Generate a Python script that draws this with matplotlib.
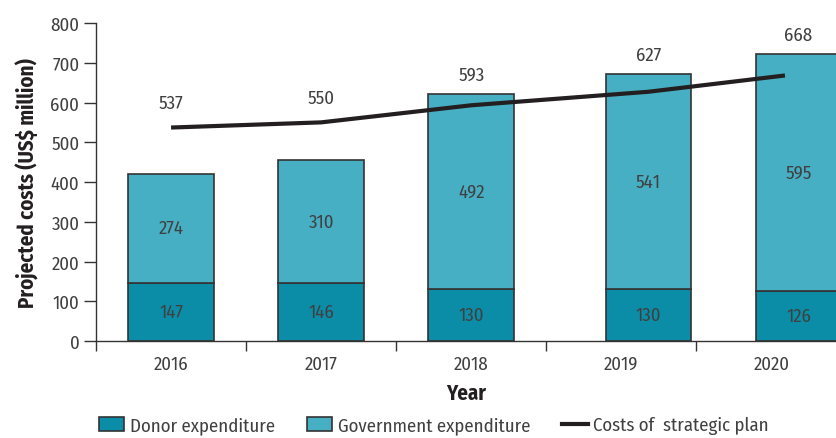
import numpy as np
import matplotlib
matplotlib.use("Agg")
import matplotlib.pyplot as plt
from matplotlib.patches import Patch
from matplotlib.lines import Line2D
from matplotlib import font_manager

# pick a condensed humanist face if one is installed
installed = set(f.name for f in font_manager.fontManager.ttflist)
wanted = ['Fira Sans Condensed', 'PT Sans Narrow', 'Asap Condensed',
          'Archivo Narrow', 'DejaVu Sans']
face = [n for n in wanted if n in installed][0]
plt.rcParams['font.family'] = [face, 'DejaVu Sans']

years = ['2016', '2017', '2018', '2019', '2020']
donor = [147, 146, 130, 130, 126]
government = [274, 310, 492, 541, 595]
plan_costs = [537, 550, 593, 627, 668]

# bars of the last two years sit a little right of their labels in the original
bar_shift = [0, 0, 0, 0.18, 0.18]

c_donor = '#0b8ca7'
c_gov = '#47afc4'
c_edge = '#333333'
c_text = '#404040'

fig = plt.figure(figsize=(8.36, 4.39), dpi=100)
ax = fig.add_axes([96/836, 97/439, 740/836, 318/439])

x = np.arange(len(years))
xb = x + np.array(bar_shift)
w = 0.57

ax.bar(xb, donor, w, color=c_donor, edgecolor=c_edge, linewidth=1.2, zorder=2)
ax.bar(xb, government, w, bottom=donor, color=c_gov, edgecolor=c_edge,
       linewidth=1.2, zorder=2)

xl = xb.copy()
xl[-1] = 4.09
ax.plot(xl, plan_costs, color='#231f20', linewidth=3, solid_capstyle='butt', zorder=3)

fs = 13.5
totals = np.array(donor) + np.array(government)
for i in range(len(years)):
    ax.text(xb[i], donor[i] / 2, str(donor[i]), ha='center', va='center',
            fontsize=fs, color=c_text, zorder=4)
    ax.text(xb[i], donor[i] + government[i] / 2, str(government[i]), ha='center',
            va='center', fontsize=fs, color=c_text, zorder=4)
    if plan_costs[i] > totals[i]:
        top, off = plan_costs[i], 18
    else:
        top, off = totals[i], 14
    ax.annotate(str(plan_costs[i]), (xb[i], top), xytext=(0, off),
                textcoords='offset points', ha='center', va='center',
                fontsize=fs, color=c_text)

ax.set_xlim(-0.5, 4.43)
ax.set_ylim(0, 800)
ax.set_yticks(np.arange(0, 801, 100))
ax.set_xticks(np.arange(-0.5, 4.0, 1.0))
ax.set_xticklabels([])
ax.set_xticks(x, minor=True)
ax.set_xticklabels(years, minor=True)
ax.tick_params(axis='x', which='major', direction='out', length=7.5, width=1,
               color=c_edge)
ax.tick_params(axis='x', which='minor', length=0, pad=10, labelsize=fs,
               labelcolor=c_text)
ax.tick_params(axis='y', direction='out', length=9, width=1, color=c_edge,
               labelsize=fs, labelcolor=c_text, pad=3)

for s in ['top', 'right']:
    ax.spines[s].set_visible(False)
for s in ['left', 'bottom']:
    ax.spines[s].set_color(c_edge)
    ax.spines[s].set_linewidth(1)

ax.set_ylabel('Projected costs (US$ million)', fontsize=15, fontweight='bold',
              color='#231f20', labelpad=8)
ax.set_xlabel('Year', fontsize=15, fontweight='bold', color='#231f20', labelpad=7)

handles = [Patch(facecolor=c_donor, edgecolor=c_edge, linewidth=1.2),
           Patch(facecolor=c_gov, edgecolor=c_edge, linewidth=1.2),
           Line2D([0], [0], color='#231f20', linewidth=3)]
labels = ['Donor expenditure', 'Government expenditure', 'Costs of  strategic plan']
fig.legend(handles, labels, loc='lower center', ncol=3, frameon=False,
           bbox_to_anchor=(0.519, -0.03), fontsize=13.5, handlelength=1.35,
           handleheight=0.75, columnspacing=1.7, handletextpad=0.3,
           labelcolor=c_text)

fig.savefig('out.png', dpi=100)
